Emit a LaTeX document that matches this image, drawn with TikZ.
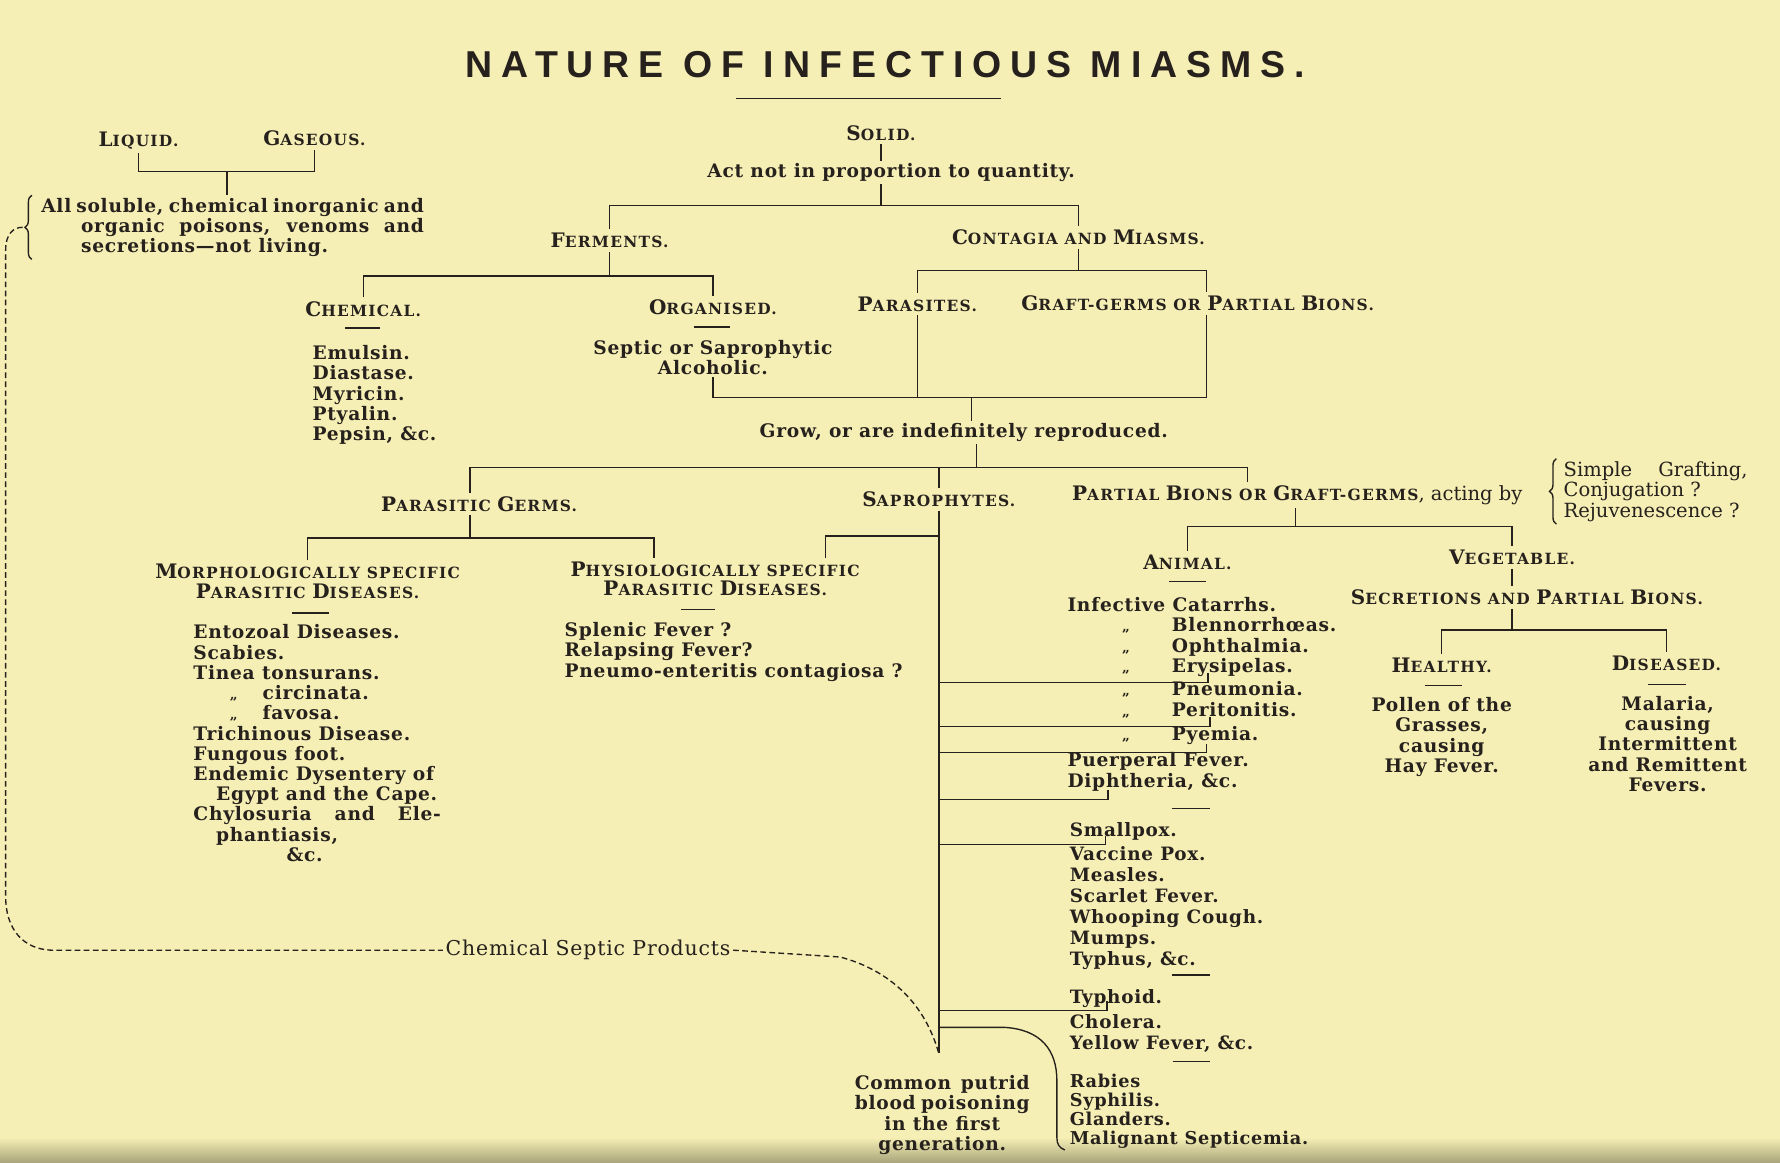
\documentclass[tikz,border=0pt]{standalone}
\usepackage{fontspec}
\setmainfont{DejaVu Serif}
\newfontfamily\titlefont[LetterSpace=24]{Liberation Sans}
\newfontfamily\headfont[LetterSpace=8]{DejaVu Serif}
\newfontfamily\bodyfont[LetterSpace=4]{DejaVu Serif}
\usetikzlibrary{decorations.pathreplacing}
\definecolor{paper}{RGB}{245,238,181}
\definecolor{shadow}{RGB}{170,165,122}
\definecolor{ink}{RGB}{38,33,28}
\newcommand\capinit[1]{{\fontsize{8.8}{8.5}\selectfont#1}}
\newcommand\dittorow[3]{\makebox[#1][l]{\hspace*{#2}{\fontsize{6}{6}\selectfont„}}#3}

\tikzset{
  miasmtitle/.style={font=\titlefont\bfseries\fontsize{16.5}{18}\selectfont},
  caphead/.style={font=\headfont\bfseries\fontsize{6.8}{8.5}\selectfont, inner sep=1.5pt},
  bodytext/.style={font=\bodyfont\bfseries\fontsize{8.2}{8.9}\selectfont, inner sep=1pt},
  itemlist/.style={bodytext, align=left, anchor=north west},
  branch/.style={draw=ink, line width=0.6pt},
  septicdash/.style={branch, dash pattern=on 2.5pt off 1.5pt},
  bracestroke/.style={branch, decorate, decoration={brace, amplitude=3pt}},
}

\begin{document}
\begin{tikzpicture}[x=0.5pt, y=-0.5pt, every node/.append style={text=ink}]
\fill[paper] (0,0) rectangle (1568,1024);
\useasboundingbox (0,0) rectangle (1568,1024);
% page shadow along the bottom edge
\shade[top color=paper, bottom color=shadow] (0,1002) rectangle (1568,1024);

% Title
\node[miasmtitle] (ttl) at (780,57) {NATURE OF INFECTIOUS MIASMS.};
\draw[branch] (648,87) -- (882,87);

% Liquid and gaseous
\node[caphead] (liq) at (122,124) {\capinit{L}IQUID.};
\node[caphead] (gas) at (277,122) {\capinit{G}ASEOUS.};
\node[itemlist] (soluble) at (34,172) {\makebox[168.5pt][s]{All soluble, chemical inorganic and}\\
  \hspace*{17.5pt}\makebox[151pt][s]{organic poisons, venoms and}\\
  \hspace*{17.5pt}secretions—not living.};
\coordinate (lgbus) at (0,151);
\coordinate (lgmid) at (200,151);
\draw[branch] (liq.south) |- (lgbus -| gas.south) -- (gas.south);
\draw[branch] (lgmid) -- (lgmid |- soluble.north);
\draw[bracestroke] ([xshift=-3pt]soluble.south west) -- ([xshift=-3pt]soluble.north west);
\coordinate (tipL) at ([xshift=-7pt]soluble.west);

% Solid
\node[caphead] (solid) at (776,117) {\capinit{S}OLID.};
\node[bodytext] (act) at (785,152) {Act not in proportion to quantity.};
\draw[branch] (solid.south) -- (solid.south |- act.north);
\coordinate (busA) at (0,181);
\node[caphead] (ferm) at (537,212) {\capinit{F}ERMENTS.};
\node[caphead] (cont) at (950,209) {\capinit{C}ONTAGIA AND \capinit{M}IASMS.};
\draw[branch] (act.south -| solid.south) -- (solid.south |- busA);
\draw[branch] (ferm.north) |- (busA -| cont.north) -- (cont.north);

% Ferments
\coordinate (busB) at (0,243);
\node[caphead] (chem) at (320,272) {\capinit{C}HEMICAL.};
\node[caphead] (org) at (628,271) {\capinit{O}RGANISED.};
\draw[branch] (ferm.south) -- (ferm.south |- busB);
\draw[branch] (chem.north) |- (busB -| org.north) -- (org.north);
\draw[branch] (304,289) -- ++(31,0);
\draw[branch] (611,288) -- ++(32,0);
\node[itemlist] (chemlist) at (273,302) {Emulsin.\\Diastase.\\Myricin.\\Ptyalin.\\Pepsin, \&c.};
\node[bodytext, align=center, anchor=north] (septic) at (628,297) {Septic or Saprophytic\\Alcoholic.};

% Contagia and miasms
\coordinate (busC) at (0,238);
\coordinate (busD) at (0,350);
\coordinate (gftx) at (1063,0);
\node[caphead] (para) at (808,268) {\capinit{P}ARASITES.};
\node[caphead] (graft) at (1055,267) {\capinit{G}RAFT-GERMS OR \capinit{P}ARTIAL \capinit{B}IONS.};
\draw[branch] (cont.south) -- (cont.south |- busC);
\draw[branch] (para.north) |- (busC -| gftx) -- (gftx |- graft.north);
\draw[branch] (para.south) -- (para.south |- busD);
\draw[branch] (gftx |- graft.south) -- (gftx |- busD) -| (septic.south);

% Grow, or are indefinitely reproduced
\node[bodytext] (grow) at (849,381) {Grow, or are indefinitely reproduced.};
\coordinate (gtop) at ([xshift=3.5pt]grow.north);
\coordinate (gbot) at ([xshift=5.5pt]grow.south);
\coordinate (busE) at (0,412);
\draw[branch] (gtop |- busD) -- (gtop);
\draw[branch] (gbot) -- (gbot |- busE);

\node[caphead] (pgerm) at (422,444) {\capinit{P}ARASITIC \capinit{G}ERMS.};
\node[caphead] (sapro) at (827,440) {\capinit{S}APROPHYTES.};
\node[caphead, anchor=west] (pbion) at (941,436) {\capinit{P}ARTIAL \capinit{B}IONS OR \capinit{G}RAFT-GERMS{\rmfamily\mdseries\fontsize{8.6}{9}\selectfont, acting by}};
\coordinate (pgx) at (414,0);
\coordinate (pbx) at (1099,0);
\draw[branch] (pgx |- pgerm.north) |- (busE -| pbx) -- (pbx |- pbion.north);
\draw[branch] (sapro.north) -- (sapro.north |- busE);
\node[itemlist, font=\rmfamily\fontsize{8.6}{9}\selectfont] (actby) at (1375,404) {\makebox[81pt][s]{Simple Grafting,}\\Conjugation ?\\Rejuvenescence ?};
\draw[bracestroke] ([xshift=-2pt]actby.south west) -- ([xshift=-2pt]actby.north west);

% Parasitic germs
\coordinate (busF) at (0,474);
\coordinate (phx) at (576,0);
\node[caphead, align=center] (morph) at (271,512) {\capinit{M}ORPHOLOGICALLY SPECIFIC\\\capinit{P}ARASITIC \capinit{D}ISEASES.};
\node[caphead, align=center] (phys) at (630,510) {\capinit{P}HYSIOLOGICALLY SPECIFIC\\\capinit{P}ARASITIC \capinit{D}ISEASES.};
\draw[branch] (pgx |- pgerm.south) -- (pgx |- busF);
\draw[branch] (morph.north) |- (busF -| phx) -- (phx |- phys.north);
\draw[branch] (257,540) -- ++(33,0);
\draw[branch] (600,537) -- ++(30,0);
\node[itemlist] (morphlist) at (168,548) {Entozoal Diseases.\\Scabies.\\Tinea tonsurans.\\
  \dittorow{30.5pt}{16pt}{circinata.}\\\dittorow{30.5pt}{16pt}{favosa.}\\
  Trichinous Disease.\\Fungous foot.\\Endemic Dysentery of\\\hspace*{10pt}Egypt and the Cape.\\
  \makebox[109pt][s]{Chylosuria and Ele-}\\\hspace*{10pt}phantiasis,\\\hspace*{41pt}\&c.};
\node[itemlist] (physlist) at (495,546) {Splenic Fever ?\\Relapsing Fever?\\Pneumo-enteritis contagiosa ?};

% Saprophytes
\coordinate (busG) at (0,472);
\coordinate (phy) at (727,0);
\coordinate (spine) at (827,928);
\draw[branch] (phy |- phys.north) |- (busG -| sapro.south) -- (sapro.south);
\draw[branch] (sapro.south |- busG) -- (spine);

% Partial bions
\coordinate (busH) at (0,464);
\coordinate (pbx2) at (1141,0);
\node[caphead] (anim) at (1046,495) {\capinit{A}NIMAL.};
\node[caphead] (veg) at (1332,491) {\capinit{V}EGETABLE.};
\draw[branch] (pbx2 |- pbion.south) -- (pbx2 |- busH);
\draw[branch] (anim.north) |- (busH -| veg.north) -- (veg.north);
\node[caphead] (secr) at (1345,526) {\capinit{S}ECRETIONS AND \capinit{P}ARTIAL \capinit{B}IONS.};
\draw[branch] (veg.south) -- (veg.south |- secr.north);
\coordinate (busI) at (0,555);
\node[caphead] (heal) at (1270,586) {\capinit{H}EALTHY.};
\node[caphead] (dis) at (1468,584) {\capinit{D}ISEASED.};
\draw[branch] (veg.south |- secr.south) -- (veg.south |- busI);
\draw[branch] (heal.north) |- (busI -| dis.north) -- (dis.north);
\draw[branch] (1030,512) -- ++(32,0);
\draw[branch] (1255,604) -- ++(33,0);
\draw[branch] (1452,603) -- ++(33,0);
\node[bodytext, align=center, anchor=north] (heallist) at (1270,612) {Pollen of the\\Grasses,\\causing\\Hay Fever.};
\node[bodytext, align=center, anchor=north] (dislist) at (1469,611) {Malaria,\\causing\\Intermittent\\and Remittent\\Fevers.};

% Animal diseases
\node[itemlist] (animlist) at (938,524) {Infective Catarrhs.\\
  \dittorow{46pt}{24pt}{Blennorrhœas.}\\
  \dittorow{46pt}{24pt}{Ophthalmia.}\\
  \dittorow{46pt}{24pt}{Erysipelas.}\\[1.5pt]
  \dittorow{46pt}{24pt}{Pneumonia.}\\
  \dittorow{46pt}{24pt}{Peritonitis.}\\[2pt]
  \dittorow{46pt}{24pt}{Pyemia.}\\[2.5pt]
  Puerperal Fever.\\Diphtheria, \&c.};
\draw[branch] (1032,712) -- ++(34,0);
\node[itemlist, font=\bodyfont\bfseries\fontsize{8.1}{9.2}\selectfont] (poxlist) at (940,722) {Smallpox.\\[1.5pt]Vaccine Pox.\\Measles.\\Scarlet Fever.\\Whooping Cough.\\Mumps.\\Typhus, \&c.};
\draw[branch] (1032,859) -- ++(34,0);
\node[itemlist, font=\bodyfont\bfseries\fontsize{8.1}{9.2}\selectfont] (typhlist) at (940,869) {Typhoid.\\[2pt]Cholera.\\Yellow Fever, \&c.};
\draw[branch] (1033,935) -- ++(33,0);
\node[itemlist, font=\bodyfont\bfseries\fontsize{7.8}{8.3}\selectfont] (rablist) at (940,944) {Rabies\\Syphilis.\\Glanders.\\Malignant Septicemia.};

% branches from the saprophytes line
\foreach \y/\x in {601/1064, 640/1066, 663/1063, 704/976, 744/974, 890/975}{
  \coordinate (cut) at (0,\y);
  \draw[branch] (spine |- cut) -| (\x,\y-8);
}
\coordinate (cutR) at (0,905);
\draw[branch] (spine |- cutR) -- (885,905) .. controls (917,907) and (931,925) .. (931,952)
  -- (931,1002) .. controls (931,1008) and (933,1011) .. (938,1013);

\node[bodytext, align=center, anchor=north] (common) at (830,945) {\makebox[77pt][s]{Common putrid}\\\makebox[77pt][s]{blood poisoning}\\in the first\\generation.};

% Chemical septic products
\node[bodytext, font=\bodyfont\fontsize{9}{9}\selectfont] (csp) at (518,837) {Chemical Septic Products};
\draw[septicdash] (tipL) .. controls (12,200) and (5,206) .. (5,220) -- (5,790)
  .. controls (5,818) and (20,836) .. (45,837) -- (csp.west);
\draw[septicdash] (csp.east) -- (740,843) .. controls (785,855) and (815,885) .. (spine);

\end{tikzpicture}
\end{document}
